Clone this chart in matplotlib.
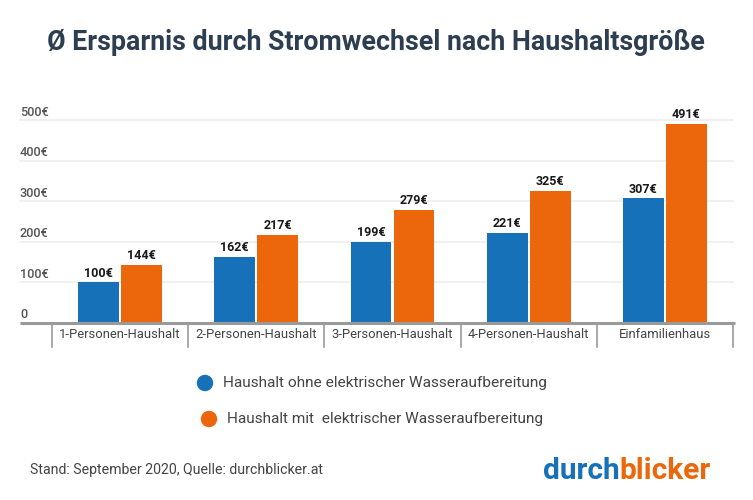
import matplotlib
matplotlib.use("Agg")
import matplotlib.pyplot as plt
import matplotlib.transforms as mtransforms
import numpy as np

plt.rcParams['font.family'] = ['Roboto', 'DejaVu Sans']

categories = ["1-Personen-Haushalt", "2-Personen-Haushalt", "3-Personen-Haushalt",
              "4-Personen-Haushalt", "Einfamilienhaus"]
ohne = [100, 162, 199, 221, 307]
mit = [144, 217, 279, 325, 491]
series_names = ["Haushalt ohne elektrischer Wasseraufbereitung",
                "Haushalt mit  elektrischer Wasseraufbereitung"]
yticks = [0, 100, 200, 300, 400, 500]
ytick_labels = ["0", "100€", "200€", "300€", "400€", "500€"]

BLUE = "#1771b9"
ORANGE = "#ec670b"

W, H = 753, 500
fig = plt.figure(figsize=(W / 100, H / 100), dpi=100)

# axes: x 52..733 px, y baseline 323 px, 500-line at 120 px
ax_left, ax_right = 52, 733
ax_bottom, ax_top = 323, 120
ax = fig.add_axes([ax_left / W, (H - ax_bottom) / H, (ax_right - ax_left) / W,
                   (ax_bottom - ax_top) / H])
ax.set_xlim(-0.5, len(categories) - 0.5)
ax.set_ylim(0, 500)
for s in ax.spines.values():
    s.set_visible(False)
ax.set_xticks([])
ax.set_yticks([])
ax.patch.set_alpha(0)

x = np.arange(len(categories))
bw = 0.30
off = 0.158
b1 = ax.bar(x - off, ohne, width=bw, color=BLUE, zorder=3)
b2 = ax.bar(x + off, mit, width=bw, color=ORANGE, zorder=3)

for rects, vals in ((b1, ohne), (b2, mit)):
    for r, v in zip(rects, vals):
        ax.annotate(f"{v}€", (r.get_x() + r.get_width() / 2, v), xytext=(0, 2),
                    textcoords="offset points", ha="center", va="bottom",
                    fontsize=9, fontweight="bold", color="#1a1a1a", clip_on=False)

# gridlines (extend to the left over the tick labels)
gl_x0 = (20 - ax_left) / (ax_right - ax_left)
trans = mtransforms.blended_transform_factory(ax.transAxes, ax.transData)
for yt, lab in zip(yticks, ytick_labels):
    if yt == 0:
        ax.plot([gl_x0, 1.003], [0, 0], transform=trans, color="#9a9a9a", lw=2.2,
                clip_on=False, zorder=4, solid_capstyle="butt")
    else:
        ax.plot([gl_x0, 1.0], [yt, yt], transform=trans, color="#eeeeee", lw=1.2,
                clip_on=False, zorder=1)
    ax.text(gl_x0, yt, lab, transform=trans + mtransforms.ScaledTranslation(0, 8 / 100, fig.dpi_scale_trans),
            ha="left", va="center", fontsize=9.2, fontweight="medium", color="#555555")

# category separators and labels
sep_len = (347 - 323) / (ax_bottom - ax_top)
tx = mtransforms.blended_transform_factory(ax.transData, ax.transAxes)
for b in np.arange(-0.5, len(categories), 1.0):
    ax.plot([b, b], [0, -sep_len], transform=tx, color="#9a9a9a", lw=1.2, clip_on=False)
for xi, c in zip(x, categories):
    ax.text(xi, -(334 - 323) / (ax_bottom - ax_top), c, transform=tx, ha="center",
            va="center", fontsize=9.4, color="#444444")

# title
fig.text(376 / W, 1 - 43 / H, "Ø Ersparnis durch Stromwechsel nach Haushaltsgröße",
         ha="center", va="center", fontsize=19.3, fontweight="bold", color="#2c3e4f")

# legend
for (cx, tx_, cy, col, name) in ((205, 223, 383, BLUE, series_names[0]),
                                 (209, 227, 419, ORANGE, series_names[1])):
    fig.patches.append(matplotlib.patches.Ellipse((cx / W, 1 - cy / H), 15 / W, 15 / H,
                                                  transform=fig.transFigure, color=col))
    fig.text(tx_ / W, 1 - cy / H, name, ha="left", va="center", fontsize=11.1,
             color="#444444")

# footer
fig.text(30 / W, 1 - 470 / H, "Stand: September 2020, Quelle: durchblicker.at",
         ha="left", va="center", fontsize=10.2, color="#444444")
t1 = fig.text(543 / W, 1 - 471 / H, "durch", ha="left", va="center", fontsize=21.5,
              fontweight="bold", color=BLUE)
fig.canvas.draw()
bb = t1.get_window_extent()
fig.text(bb.x1 / W, 1 - 471 / H, "blicker", ha="left", va="center", fontsize=21.5,
         fontweight="bold", color=ORANGE)

fig.savefig("out.png", dpi=100)
